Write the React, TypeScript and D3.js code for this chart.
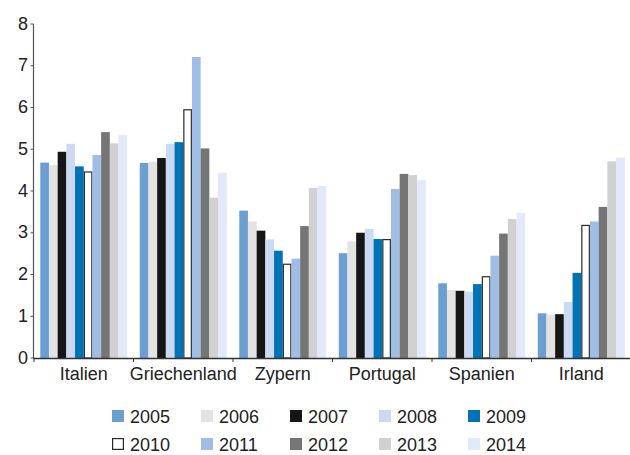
import * as d3 from 'd3';

const countries = ['Italien', 'Griechenland', 'Zypern', 'Portugal', 'Spanien', 'Irland'];
const years = ['2005', '2006', '2007', '2008', '2009', '2010', '2011', '2012', '2013', '2014'];

// values per country, in the order of `years`
const italien = [4.68, 4.62, 4.94, 5.13, 4.59, 4.47, 4.86, 5.41, 5.14, 5.34];
const griechenland = [4.67, 4.7, 4.79, 5.13, 5.17, 5.96, 7.21, 5.02, 3.84, 4.44];
const zypern = [3.53, 3.27, 3.05, 2.84, 2.57, 2.26, 2.38, 3.16, 4.07, 4.12];
const portugal = [2.51, 2.79, 3.0, 3.09, 2.85, 2.85, 4.05, 4.41, 4.38, 4.26];
const spanien = [1.79, 1.63, 1.61, 1.59, 1.77, 1.96, 2.45, 2.98, 3.33, 3.47];
const irland = [1.07, 1.04, 1.05, 1.34, 2.04, 3.19, 3.27, 3.62, 4.71, 4.8];

const yTicks = [0, 1, 2, 3, 4, 5, 6, 7, 8];

const colors = [
  '#6b9fd2', '#e3e3e3', '#161616', '#cbdaf2', '#0073b7',
  '#ffffff', '#a0bde6', '#757575', '#d0d1d0', '#e2e9f8',
];

const table: Record<string, number[]> = {
  Italien: italien,
  Griechenland: griechenland,
  Zypern: zypern,
  Portugal: portugal,
  Spanien: spanien,
  Irland: irland,
};

const W = 630;
const H = 455;
const FONT = '"Liberation Sans", Arial, Helvetica, sans-serif';
const TEXT = '#222';

export default function App() {
  const x0 = d3.scaleBand<string>().domain(countries).range([34, 631]);
  const x1 = d3
    .scaleBand<string>()
    .domain(years)
    .range([0, x0.bandwidth()])
    .paddingInner(0)
    .paddingOuter(0.72);
  const y = d3.scaleLinear().domain([0, 8]).range([358, 24]);

  const boundaries = countries.map((c) => x0(c)!);

  return (
    <svg
      width={W}
      height={H}
      style={{ position: 'absolute', left: 0, top: 0, background: '#fff' }}
      fontFamily={FONT}
    >
      {/* bars */}
      {countries.map((c) => (
        <g key={c} transform={`translate(${x0(c)},0)`}>
          {years.map((yr, i) => {
            const v = table[c][i];
            const bx = x1(yr)!;
            const bw = x1.bandwidth();
            if (yr === '2010') {
              return (
                <rect
                  key={yr}
                  x={bx + 0.6}
                  y={y(v) + 0.6}
                  width={bw - 1.2}
                  height={y(0) - y(v) - 0.6}
                  fill="#fff"
                  stroke="#2a2a2a"
                  strokeWidth={1.2}
                />
              );
            }
            return (
              <rect key={yr} x={bx} y={y(v)} width={bw} height={y(0) - y(v)} fill={colors[i]} />
            );
          })}
        </g>
      ))}

      {/* y axis */}
      <line x1={33.5} x2={33.5} y1={y(8)} y2={y(0)} stroke="#555" strokeWidth={1.2} />
      {yTicks.map((t) => (
        <g key={t}>
          <line x1={30.5} x2={33.5} y1={y(t)} y2={y(t)} stroke="#555" />
          <text x={28} y={y(t) + 5.5} textAnchor="end" fontSize={18} fill={TEXT}>
            {t}
          </text>
        </g>
      ))}

      {/* x axis */}
      <line x1={33} x2={W} y1={358.5} y2={358.5} stroke="#333" strokeWidth={1.4} />
      {boundaries.map((bx) => (
        <line key={bx} x1={bx} x2={bx} y1={358.5} y2={362} stroke="#333" />
      ))}
      {countries.map((c) => (
        <text
          key={c}
          x={x0(c)! + x0.bandwidth() / 2}
          y={380}
          textAnchor="middle"
          fontSize={18}
          fill={TEXT}
        >
          {c}
        </text>
      ))}

      {/* legend */}
      {years.map((yr, i) => {
        const row = i < 5 ? 0 : 1;
        const col = i % 5;
        const lx = 112 + col * 89;
        const ly = 410 + row * 28;
        return (
          <g key={yr}>
            {yr === '2010' ? (
              <rect x={lx + 0.6} y={ly + 0.6} width={10.8} height={10.8} fill="#fff" stroke="#2a2a2a" strokeWidth={1.2} />
            ) : (
              <rect x={lx} y={ly} width={12} height={12} fill={colors[i]} />
            )}
            <text x={lx + 18} y={ly + 12.5} fontSize={18} fill={TEXT}>
              {yr}
            </text>
          </g>
        );
      })}
    </svg>
  );
}
